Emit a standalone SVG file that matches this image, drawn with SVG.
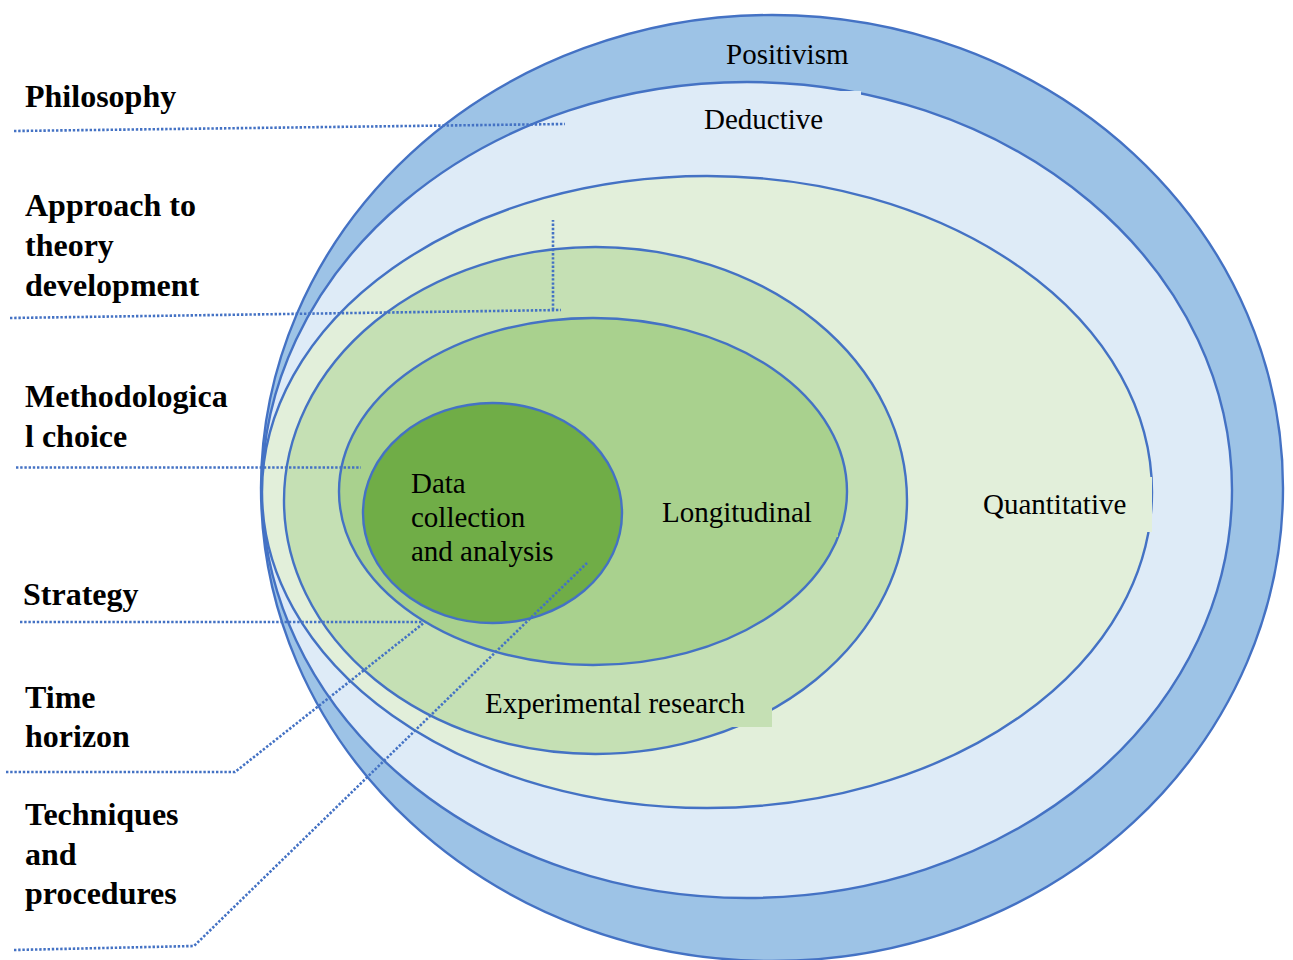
<svg xmlns="http://www.w3.org/2000/svg" width="1293" height="960" viewBox="0 0 1293 960">
<style>
.ring{stroke:#4472C4;stroke-width:2.4}
.lbl{font-family:"Liberation Serif","Times New Roman",serif;font-size:29px;fill:#000}
.side{font-family:"Liberation Serif","Times New Roman",serif;font-size:32px;font-weight:bold;fill:#000}
.dot{fill:none;stroke:#4472C4;stroke-width:2.6;stroke-dasharray:2.4 1.8}
</style>
<rect width="1293" height="960" fill="#fff"/>
<g id="positivism">
<ellipse class="ring" cx="772" cy="488" rx="511" ry="473" fill="#9DC3E6"/>
<text class="lbl" x="726" y="64">Positivism</text>
</g>
<g id="deductive">
<ellipse class="ring" cx="747" cy="490" rx="485" ry="408" fill="#DEEBF7"/>
<rect x="690" y="91" width="171" height="55" fill="#DEEBF7"/>
<text class="lbl" x="704" y="129">Deductive</text>
</g>
<g id="quantitative">
<ellipse class="ring" cx="707" cy="492" rx="445" ry="316" fill="#E2EFDA"/>
<rect x="970" y="477" width="182" height="55" fill="#E2EFDA"/>
<text class="lbl" x="983" y="514">Quantitative</text>
</g>
<g id="experimental">
<ellipse class="ring" cx="595.5" cy="500.5" rx="311.5" ry="253.5" fill="#C5E0B4"/>
<rect x="470" y="681" width="302" height="46" fill="#C5E0B4"/>
<text class="lbl" x="485" y="713">Experimental research</text>
</g>
<g id="longitudinal">
<ellipse class="ring" cx="593" cy="491.5" rx="254" ry="173.5" fill="#A9D18E"/>
<rect x="655" y="487" width="183" height="50" fill="#A9D18E"/>
<text class="lbl" x="662" y="522">Longitudinal</text>
</g>
<g id="data">
<ellipse class="ring" cx="492.5" cy="513" rx="129.5" ry="110" fill="#70AD47"/>
<text class="lbl" x="411" y="493">Data</text>
<text class="lbl" x="411" y="527">collection</text>
<text class="lbl" x="411" y="561">and analysis</text>
</g>
<g id="connectors">
<path class="dot" d="M14,131 L565,124"/>
<path class="dot" d="M10,318 L561,310 M553,310 L553,220"/>
<path class="dot" d="M16,467.5 L361,467.5"/>
<path class="dot" d="M20,622 L423,622"/>
<path class="dot" d="M6,772 L235,772 L425,622"/>
<path class="dot" d="M14,950 L194,946 L587,563"/>
</g>
<g id="label-philosophy"><text class="side" x="25" y="107">Philosophy</text></g>
<g id="label-approach"><text class="side" x="25" y="216">Approach to</text><text class="side" x="25" y="256">theory</text><text class="side" x="25" y="296">development</text></g>
<g id="label-method"><text class="side" x="25" y="407">Methodologica</text><text class="side" x="25" y="447">l choice</text></g>
<g id="label-strategy"><text class="side" x="23" y="605">Strategy</text></g>
<g id="label-time"><text class="side" x="25" y="708">Time</text><text class="side" x="25" y="747">horizon</text></g>
<g id="label-techniques"><text class="side" x="25" y="825">Techniques</text><text class="side" x="25" y="865">and</text><text class="side" x="25" y="904">procedures</text></g>
</svg>
